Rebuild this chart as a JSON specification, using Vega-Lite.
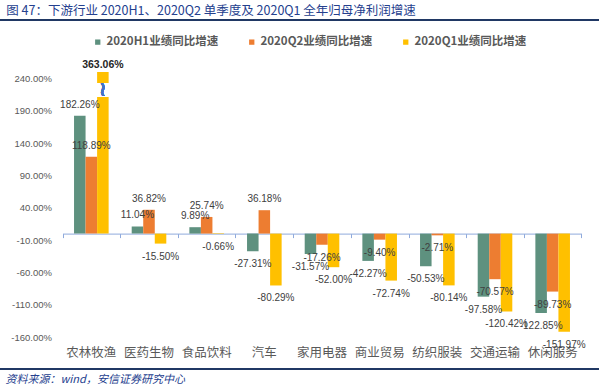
{
  "$schema": "https://vega.github.io/schema/vega-lite/v6.json",
  "autosize": {"type": "none"},
  "padding": 0,
  "width": 599,
  "height": 390,
  "title": {
    "text": "图 47：下游行业 2020H1、2020Q2 单季度及 2020Q1 全年归母净利润增速",
    "anchor": "start",
    "frame": "bounds",
    "font": "Noto Sans CJK SC",
    "fontSize": 12.5,
    "fontWeight": "normal",
    "color": "#24408E",
    "offset": 0,
    "dx": 7,
    "dy": 17
  },
  "config": {
    "view": {"stroke": null},
    "locale": {"number": {"decimal": ".", "thousands": ",", "grouping": [3], "currency": ["$", ""], "minus": "-"}},
    "font": "Liberation Sans",
    "axisY": {"labelOverlap": false},
    "axisQuantitative": {"labelOverlap": false}
  },
  "data": {
    "values": [
      {"cat": "农林牧渔", "series": "2020H1业绩同比增速", "v": 1.8226},
      {"cat": "农林牧渔", "series": "2020Q2业绩同比增速", "v": 1.1889},
      {"cat": "农林牧渔", "series": "2020Q1业绩同比增速", "v": 3.6306},
      {"cat": "医药生物", "series": "2020H1业绩同比增速", "v": 0.1104},
      {"cat": "医药生物", "series": "2020Q2业绩同比增速", "v": 0.3682},
      {"cat": "医药生物", "series": "2020Q1业绩同比增速", "v": -0.155},
      {"cat": "食品饮料", "series": "2020H1业绩同比增速", "v": 0.0989},
      {"cat": "食品饮料", "series": "2020Q2业绩同比增速", "v": 0.2574},
      {"cat": "食品饮料", "series": "2020Q1业绩同比增速", "v": -0.0066},
      {"cat": "汽车", "series": "2020H1业绩同比增速", "v": -0.2731},
      {"cat": "汽车", "series": "2020Q2业绩同比增速", "v": 0.3618},
      {"cat": "汽车", "series": "2020Q1业绩同比增速", "v": -0.8029},
      {"cat": "家用电器", "series": "2020H1业绩同比增速", "v": -0.3157},
      {"cat": "家用电器", "series": "2020Q2业绩同比增速", "v": -0.1726},
      {"cat": "家用电器", "series": "2020Q1业绩同比增速", "v": -0.52},
      {"cat": "商业贸易", "series": "2020H1业绩同比增速", "v": -0.4227},
      {"cat": "商业贸易", "series": "2020Q2业绩同比增速", "v": -0.094},
      {"cat": "商业贸易", "series": "2020Q1业绩同比增速", "v": -0.7274},
      {"cat": "纺织服装", "series": "2020H1业绩同比增速", "v": -0.5053},
      {"cat": "纺织服装", "series": "2020Q2业绩同比增速", "v": -0.0271},
      {"cat": "纺织服装", "series": "2020Q1业绩同比增速", "v": -0.8014},
      {"cat": "交通运输", "series": "2020H1业绩同比增速", "v": -0.9758},
      {"cat": "交通运输", "series": "2020Q2业绩同比增速", "v": -0.7057},
      {"cat": "交通运输", "series": "2020Q1业绩同比增速", "v": -1.2042},
      {"cat": "休闲服务", "series": "2020H1业绩同比增速", "v": -1.2285},
      {"cat": "休闲服务", "series": "2020Q2业绩同比增速", "v": -0.8973},
      {"cat": "休闲服务", "series": "2020Q1业绩同比增速", "v": -1.5197}
    ]
  },
  "resolve": {"axis": {"x": "independent"}},
  "layer": [
    {
      "transform": [{"filter": "datum.v <= 2.5"}],
      "mark": {"type": "bar"},
      "encoding": {
        "x": {
          "field": "cat", "type": "nominal", "sort": null,
          "scale": {"range": [62.5, 581.5], "paddingInner": 0, "paddingOuter": 0},
          "axis": {
            "orient": "bottom", "offset": -53, "title": "资料来源：wind，安信证券研究中心",
            "titleFont": "Noto Sans CJK SC", "titleFontSize": 11, "titleFontStyle": "italic", "titleFontWeight": "normal",
            "titleColor": "#24408E", "titleAnchor": "start", "titleAlign": "left", "titleBaseline": "middle",
            "titleX": 5, "titleY": 42,
            "labelAngle": 0, "labelFont": "Noto Sans CJK SC", "labelFontSize": 12.5, "labelColor": "#595959",
            "labelPadding": 9, "domain": false, "ticks": false
          }
        },
        "xOffset": {
          "field": "series", "type": "nominal",
          "sort": ["2020H1业绩同比增速", "2020Q2业绩同比增速", "2020Q1业绩同比增速"],
          "scale": {"paddingInner": 0, "paddingOuter": 1.05}
        },
        "y": {
          "field": "v", "type": "quantitative",
          "scale": {"domain": [-1.6, 2.5], "range": [337, 72], "nice": false, "zero": false},
          "axis": {
            "orient": "left",
            "values": [-1.6, -1.1, -0.6, -0.1, 0.4, 0.9, 1.4, 1.9, 2.4],
            "format": ".2%", "title": null, "grid": false, "domain": false, "ticks": false, "labelOverlap": false,
            "offset": -52, "labelPadding": 0.5, "labelFontSize": 9.5, "labelColor": "#595959"
          }
        },
        "color": {
          "field": "series", "type": "nominal",
          "sort": ["2020H1业绩同比增速", "2020Q2业绩同比增速", "2020Q1业绩同比增速"],
          "scale": {"range": ["#5E917F", "#ED7D31", "#FFC000"]},
          "legend": {
            "title": null, "orient": "none", "direction": "horizontal", "legendX": 92, "legendY": 36,
            "symbolType": "square", "symbolSize": 28, "symbolStrokeWidth": 0,
            "labelFont": "Noto Sans CJK SC", "labelFontSize": 11.5, "labelFontWeight": "bold", "labelColor": "#595959",
            "labelOffset": 3, "columnPadding": 27
          }
        }
      }
    },
    {
      "transform": [{"filter": "datum.v > 2.5"}],
      "mark": {"type": "bar", "color": "#FFC000"},
      "encoding": {
        "x": {
          "field": "cat", "type": "nominal", "sort": null,
          "axis": {
            "orient": "bottom", "offset": -21, "labels": false, "ticks": false, "title": null,
            "domain": true, "domainColor": "#203864", "domainWidth": 1
          }
        },
        "xOffset": {"field": "series", "type": "nominal", "sort": ["2020H1业绩同比增速", "2020Q2业绩同比增速", "2020Q1业绩同比增速"]},
        "y": {"datum": 2.5, "type": "quantitative"},
        "y2": {"datum": 0}
      }
    },
    {
      "mark": {"type": "rule", "color": "#203864", "strokeWidth": 1.5},
      "encoding": {
        "y": {"datum": 3.3046, "type": "quantitative"}
      }
    },
    {
      "mark": {"type": "rule", "color": "#203864", "strokeWidth": 1.5},
      "encoding": {
        "y": {"datum": -2.095, "type": "quantitative"}
      }
    },
    {
      "mark": {"type": "bar", "color": "white"},
      "encoding": {
        "x": {"datum": "农林牧渔", "type": "nominal", "axis": null},
        "xOffset": {"datum": "2020Q1业绩同比增速", "type": "nominal"},
        "y": {"datum": 2.12, "type": "quantitative"},
        "y2": {"datum": 2.33}
      }
    },
    {
      "mark": {"type": "text", "text": "≀", "font": "DejaVu Sans", "fontSize": 20, "color": "#4472C4", "baseline": "middle"},
      "encoding": {
        "x": {"datum": "农林牧渔", "type": "nominal", "axis": null},
        "xOffset": {"datum": "2020Q1业绩同比增速", "type": "nominal"},
        "y": {"datum": 2.225, "type": "quantitative"}
      }
    },
    {
      "transform": [{"filter": "datum.v >= 0 && datum.v <= 2.5"}],
      "mark": {"type": "text", "baseline": "middle", "dy": -11, "fontSize": 10, "color": "#404040"},
      "encoding": {
        "x": {
          "field": "cat", "type": "nominal", "sort": null,
          "axis": {
            "orient": "top", "offset": -20, "labels": false, "ticks": false, "title": null,
            "domain": true, "domainColor": "#203864", "domainWidth": 1
          }
        },
        "xOffset": {"field": "series", "type": "nominal", "sort": ["2020H1业绩同比增速", "2020Q2业绩同比增速", "2020Q1业绩同比增速"]},
        "y": {"field": "v", "type": "quantitative"},
        "text": {"field": "v", "type": "quantitative", "format": ".2%"}
      }
    },
    {
      "transform": [{"filter": "datum.v < 0"}],
      "mark": {"type": "text", "baseline": "middle", "dy": 13, "fontSize": 10, "color": "#404040"},
      "encoding": {
        "x": {
          "field": "cat", "type": "nominal", "sort": null,
          "axis": {
            "orient": "bottom", "offset": -156.4, "labels": false, "title": null,
            "domain": true, "domainColor": "#8FAADC", "domainWidth": 1,
            "ticks": true, "tickBand": "extent", "tickColor": "#8FAADC", "tickSize": 4, "tickWidth": 1
          }
        },
        "xOffset": {"field": "series", "type": "nominal", "sort": ["2020H1业绩同比增速", "2020Q2业绩同比增速", "2020Q1业绩同比增速"]},
        "y": {"field": "v", "type": "quantitative"},
        "text": {"field": "v", "type": "quantitative", "format": ".2%"}
      }
    },
    {
      "transform": [{"filter": "datum.v > 2.5"}],
      "mark": {"type": "text", "baseline": "middle", "dy": -7, "fontSize": 10.5, "fontWeight": "bold", "color": "#262626"},
      "encoding": {
        "x": {"field": "cat", "type": "nominal", "sort": null, "axis": null},
        "xOffset": {"field": "series", "type": "nominal", "sort": ["2020H1业绩同比增速", "2020Q2业绩同比增速", "2020Q1业绩同比增速"]},
        "y": {"datum": 2.5, "type": "quantitative"},
        "text": {"field": "v", "type": "quantitative", "format": ".2%"}
      }
    }
  ]
}
